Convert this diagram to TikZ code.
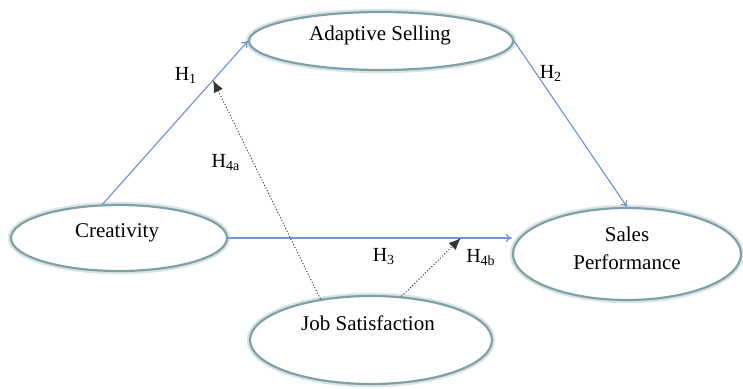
\documentclass[tikz,border=0pt]{standalone}
\usepackage{fontspec}
\setmainfont{Liberation Serif}
\usetikzlibrary{shapes.geometric,arrows.meta}
\definecolor{pathblue}{RGB}{112,152,206}
\definecolor{ringc}{RGB}{128,160,168}
\definecolor{ringsh}{RGB}{218,227,230}
\begin{document}
\begin{tikzpicture}[x=0.5pt,y=-0.5pt,
        oval/.style={ellipse,draw=ringc,line width=1.1pt,fill=white,inner sep=0pt,
            preaction={draw=ringsh,line width=3.2pt}},
        path/.style={draw=pathblue,line width=0.6pt,-{To[length=3pt,width=4pt]}},
        moderate/.style={draw=black!80,densely dotted,line width=0.5pt,-{Latex[length=6pt,width=5pt]}},
        hyp/.style={font=\fontsize{10}{12}\selectfont}]
        \useasboundingbox (0,0) rectangle (743,389);
        \node[oval,minimum width=132pt,minimum height=29pt] (adapt) at (381,41) {};
        \node[oval,minimum width=108pt,minimum height=33pt] (crea) at (119,238) {};
        \node[oval,minimum width=114pt,minimum height=46pt] (sales) at (627,254) {};
        \node[oval,minimum width=121pt,minimum height=44pt] (job) at (371,340) {};
        \begin{scope}[font=\fontsize{10.5}{14}\selectfont]
            \node at (380,35) {Adaptive Selling};
            \node at (117,233) {Creativity};
            \node[align=center] at (627,248) {Sales\\Performance};
            \node at (368,323) {Job Satisfaction};
        \end{scope}
        \draw[path] (crea.116) -- (adapt.west) coordinate[pos=0.76] (h1pt);
        \draw[path] (adapt.east) -- (sales.north);
        \draw[path] (crea.east) -- (crea.east -| sales.west) coordinate[pos=0.82] (h3pt);
        \draw[moderate] (job.141) -- (h1pt);
        \draw[moderate] (job.55) -- (h3pt);
        \node[hyp] (h1) at (186,75) {H\textsubscript{1}};
        \node[hyp] (h2) at (551,73) {H\textsubscript{2}};
        \node[hyp] (h3) at (384,257) {H\textsubscript{3}};
        \node[hyp] (h4a) at (226,163) {H\textsubscript{4a}};
        \node[hyp] (h4b) at (481,258) {H\textsubscript{4b}};
    \end{tikzpicture}
\end{document}
